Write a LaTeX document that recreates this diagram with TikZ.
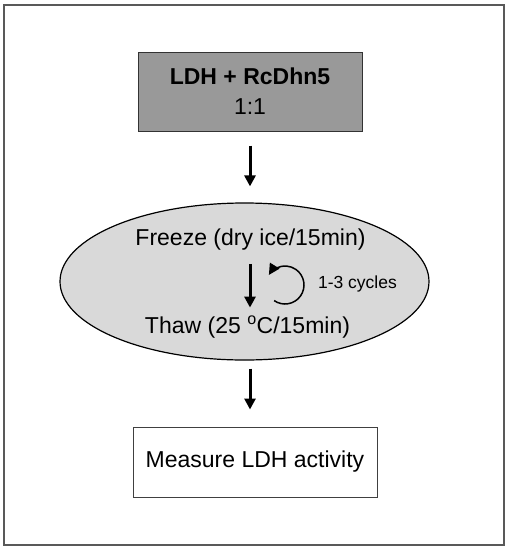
\documentclass[tikz,border=0pt]{standalone}
\usepackage{fontspec}
\setmainfont{Liberation Sans}
\usetikzlibrary{arrows.meta,shapes.geometric}
\begin{document}
\begin{tikzpicture}[x=1pt,y=1pt,
  flow/.style={line width=3pt,-{Triangle[width=11pt,length=11pt]}},
  big/.style={font=\fontsize{23}{30}\selectfont},
  lbl/.style={big,inner sep=0pt}]
\useasboundingbox (0,0) rectangle (508,-550);
\draw[draw=black!65, line width=1.5pt] (4,-5) rectangle (504,-545);
\node[draw=black!80, line width=1pt, fill=black!40, minimum width=224pt, minimum height=79pt,
      align=center, inner sep=0pt, big] (mix) at (250,-91.5)
      {\textbf{LDH + RcDhn5}\\1:1};
\node[ellipse, draw=black, line width=1.2pt, fill=black!15, minimum width=369pt,
      minimum height=157pt, inner sep=0pt] (cycle) at (244.5,-281.5) {};
\node[lbl] (freeze) at (250.5,-240) {Freeze (dry ice/15min)};
\node[lbl] (thaw) at (247.5,-327) {Thaw (25 \textsuperscript{o}C/15min)};
\node[inner sep=0pt, font=\fontsize{17.5}{21}\selectfont] (cycles) at (357.5,-284) {1-3 cycles};
\coordinate (loop) at (285,-285);
\node[draw=black!75, line width=1pt, minimum width=244pt, minimum height=70pt,
      inner sep=0pt, big] (measure) at (255,-462) {Measure LDH activity};
% arrows
\draw[flow, shorten <=14pt, shorten >=16pt] (mix.south) -- (mix.south |- cycle.north);
\draw[flow, shorten <=13pt, shorten >=8pt] ([xshift=-0.5pt]freeze.south) -- ([xshift=-0.5pt]freeze.south |- thaw.north);
\draw[line width=1.5pt, -{Triangle[width=11pt,length=11pt]}] (loop) ++(-125:19)
      arc[start angle=-125, end angle=148, radius=19];
\draw[flow, shorten <=8pt, shorten >=17pt] (cycle.south -| mix.south) -- (mix.south |- measure.north);
\end{tikzpicture}
\end{document}
